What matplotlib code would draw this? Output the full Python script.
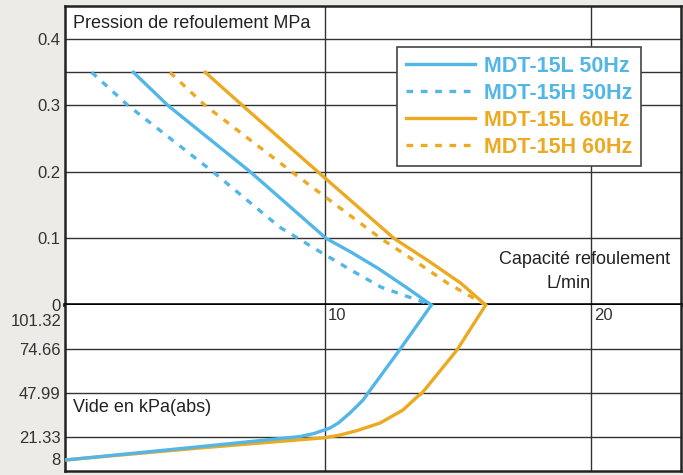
import matplotlib.pyplot as plt

plt.rcParams['font.family'] = ['Liberation Sans', 'DejaVu Sans']

# capacité refoulement (L/min) vs pression (MPa), partie haute
l50_q = [2.8, 4.1, 7.2, 10.05, 11.0, 12.0, 13.0, 14.0]
l50_p = [0.35, 0.30, 0.20, 0.10, 0.079, 0.055, 0.028, 0.0]
h50_q = [1.23, 2.6, 5.8, 8.3, 9.9, 11.0, 12.1, 14.0]
h50_p = [0.35, 0.30, 0.20, 0.117, 0.078, 0.052, 0.027, 0.0]
l60_q = [5.5, 6.9, 9.74, 12.6, 13.9, 15.1, 16.04]
l60_p = [0.35, 0.30, 0.20, 0.10, 0.066, 0.033, 0.0]
h60_q = [4.17, 5.5, 8.76, 12.1, 13.5, 14.6, 16.04]
h60_p = [0.35, 0.30, 0.20, 0.10, 0.063, 0.033, 0.0]

# partie vide (kPa abs)
v50_q = [14.0, 12.8, 11.62, 11.43, 10.94, 10.5, 10.19, 9.6, 9.06, 5.0, 0.3]
v50_k = [101.32, 74.0, 48.0, 43.7, 35.9, 29.8, 26.8, 23.5, 21.6, 15.0, 7.5]
v60_q = [16.04, 14.96, 13.65, 13.46, 12.93, 12.07, 11.2, 10.56, 10.0, 5.3, 0.3]
v60_k = [101.32, 74.0, 48.0, 45.6, 37.7, 29.8, 25.2, 22.5, 20.9, 14.7, 7.5]

p_ticks = [0, 0.1, 0.2, 0.3, 0.4]
p_grid = [0.1, 0.2, 0.3, 0.35, 0.4]
v_ticks = [74.66, 47.99, 21.33, 8]
v_grid = [74.66, 47.99, 21.33]
q_grid = [10, 20]

blue = '#52B6E6'
orange = '#EBAA22'
gridc = '#333333'
txtc = '#333333'

W, H = 683, 475
fig = plt.figure(figsize=(W / 100, H / 100), dpi=100, facecolor='#EDEBE7')
left, right, top, mid, bot = 65, 681, 6, 305, 471
ax1 = fig.add_axes([left / W, (H - mid) / H, (right - left) / W, (mid - top) / H])
ax2 = fig.add_axes([left / W, (H - bot) / H, (right - left) / W, (bot - mid) / H])

xlim = (0.23, 23.38)
for ax in (ax1, ax2):
    ax.set_xlim(*xlim)
    ax.set_facecolor('white')
    ax.set_xticks([])
    for s in ax.spines.values():
        s.set_color('#222222')
        s.set_linewidth(1.8)
    for x in q_grid:
        ax.axvline(x, color=gridc, lw=1.0, zorder=1)
    ax.tick_params(axis='y', length=0, pad=3, labelsize=12, labelcolor=txtc)

ax1.set_ylim(0, 0.4496)
ax2.set_ylim(0.74, 101.32)
ax1.spines['bottom'].set_linewidth(2.6)
ax1.spines['bottom'].set_color('black')
ax2.spines['top'].set_visible(False)

for y in p_grid:
    ax1.axhline(y, color=gridc, lw=1.0, zorder=1)
for y in v_grid:
    ax2.axhline(y, color=gridc, lw=1.0, zorder=1)

ax1.set_yticks(p_ticks)
ax1.set_yticklabels(['0', '0.1', '0.2', '0.3', '0.4'])
ax2.set_yticks(v_ticks)
ax2.set_yticklabels(['74.66', '47.99', '21.33', '8'])
ax2.annotate('101.32', xy=(0, 101.32), xycoords=('axes fraction', 'data'),
             xytext=(-3, -17), textcoords='offset pixels', ha='right', va='center',
             fontsize=12, color=txtc)
for x in q_grid:
    ax2.annotate(str(x), xy=(x, 101.32), xytext=(3, -11), textcoords='offset pixels',
                 ha='left', va='center', fontsize=12, color=txtc)

lw = 2.4
dash = (0, (2.0, 2.3))
l1, = ax1.plot(l50_q, l50_p, color=blue, lw=lw, zorder=3)
l2, = ax1.plot(h50_q, h50_p, color=blue, lw=lw, ls=dash, zorder=3)
l3, = ax1.plot(l60_q, l60_p, color=orange, lw=lw, zorder=3)
l4, = ax1.plot(h60_q, h60_p, color=orange, lw=lw, ls=dash, zorder=3)
ax2.plot(v60_q, v60_k, color=orange, lw=lw, zorder=3)
ax2.plot(v50_q, v50_k, color=blue, lw=lw, zorder=3)

ax1.text(73 / W, 1 - 24 / H, 'Pression de refoulement MPa', transform=fig.transFigure,
         fontsize=13, color='#222222', va='center', ha='left')
ax1.text(585 / W, 1 - 259 / H, 'Capacité refoulement', transform=fig.transFigure,
         fontsize=13, color='#222222', va='center', ha='center')
ax1.text(569 / W, 1 - 283 / H, 'L/min', transform=fig.transFigure,
         fontsize=13, color='#222222', va='center', ha='center')
ax2.text(73 / W, 1 - 407 / H, 'Vide en kPa(abs)', transform=fig.transFigure,
         fontsize=13, color='#222222', va='center', ha='left')

labels = ['MDT-15L 50Hz', 'MDT-15H 50Hz', 'MDT-15L 60Hz', 'MDT-15H 60Hz']
leg = ax1.legend([l1, l2, l3, l4], labels, loc='upper left',
                 bbox_to_anchor=(397 / W, 1 - 47 / H), bbox_transform=fig.transFigure,
                 prop={'weight': 'bold', 'size': 15.5}, handlelength=3.2,
                 handletextpad=0.45, labelspacing=0.28, borderpad=0.4,
                 borderaxespad=0, fancybox=False, framealpha=1, edgecolor='#444444')
leg.get_frame().set_linewidth(1.2)
for t, c in zip(leg.get_texts(), [blue, blue, orange, orange]):
    t.set_color(c)
leg.set_zorder(5)

fig.savefig('out.png', dpi=100, facecolor=fig.get_facecolor())
